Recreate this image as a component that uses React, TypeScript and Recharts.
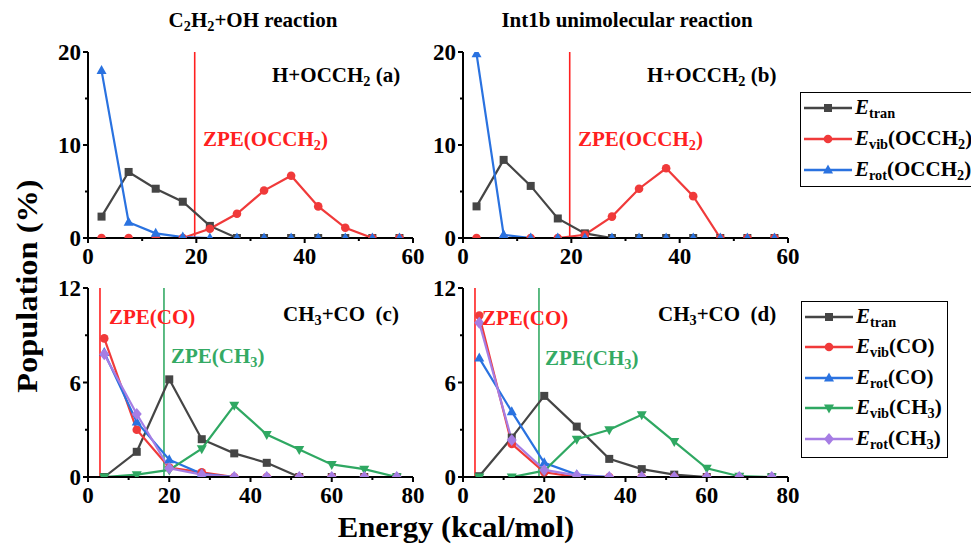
import React from 'react';
import { LineChart, Line, XAxis, YAxis, ReferenceLine } from 'recharts';

// ---------- data ----------
const energyAB = [2.5, 7.5, 12.5, 17.5, 22.5, 27.5, 32.5, 37.5, 42.5, 47.5, 52.5, 57.5];
const aTran = [2.3, 7.1, 5.3, 3.9, 1.3, 0, 0, 0, 0, 0, 0, 0];
const aVib = [0, 0, 0, 0, 1.0, 2.6, 5.1, 6.7, 3.4, 1.1, 0, 0];
const aRot = [18.0, 1.7, 0.5, 0.1, 0, 0, 0, 0, 0, 0, 0, 0];
const bTran = [3.4, 8.4, 5.6, 2.1, 0.5, 0, 0, 0, 0, 0, 0, 0];
const bVib = [0, 0, 0, 0, 0.35, 2.3, 5.3, 7.5, 4.5, 0, 0, 0];
const bRot = [19.8, 0.35, 0, 0, 0, 0, 0, 0, 0, 0, 0, 0];

const energyCD = [4, 12, 20, 28, 36, 44, 52, 60, 68, 76];
const cTran = [0, 1.6, 6.2, 2.4, 1.5, 0.9, 0, 0, 0, 0];
const cVibCO = [8.8, 3.0, 0.6, 0.3, 0, 0, 0, 0, 0, 0];
const cRotCO = [7.9, 3.5, 1.1, 0.2, 0, 0, 0, 0, 0, 0];
const cVibCH3 = [0, 0.15, 0.45, 1.8, 4.55, 2.7, 1.75, 0.8, 0.5, 0];
const cRotCH3 = [7.8, 4.0, 0.55, 0.15, 0, 0, 0, 0, 0, 0];
const dTran = [0.05, 2.5, 5.15, 3.2, 1.15, 0.5, 0.15, 0, 0, 0];
const dVibCO = [10.25, 2.1, 0.3, 0, 0, 0, 0, 0, 0, 0];
const dRotCO = [7.55, 4.15, 0.9, 0.15, 0, 0, 0, 0, 0, 0];
const dVibCH3 = [0, 0, 0.4, 2.4, 3.0, 3.95, 2.25, 0.55, 0.05, 0];
const dRotCH3 = [9.8, 2.35, 0.45, 0.1, 0, 0, 0, 0, 0, 0];

const zpeOCCH2 = 19.7;
const zpeCO = 2.95;
const zpeCH3 = 18.7;

const xTicksAB = [0, 10, 20, 30, 40, 50, 60];
const xTicksCD = [0, 10, 20, 30, 40, 50, 60, 70, 80];
const yTicksAB = [0, 5, 10, 15, 20];
const yTicksCD = [0, 3, 6, 9, 12];

// ---------- styles ----------
const FONT = '"Liberation Serif", "Times New Roman", Times, serif';
const C_TRAN = '#454545';
const C_VIB = '#f03a3a';
const C_ROT = '#2a72e0';
const C_VIBCH3 = '#2fa862';
const C_ROTCH3 = '#a67de4';
const C_ZPE_RED = '#ff2020';
const C_ZPE_GREEN = '#34aa64';

type Shape = 'square' | 'circle' | 'up' | 'down' | 'diamond';

function markerPath(shape: Shape, cx: number, cy: number, color: string, key?: any) {
  const s = 8;
  if (shape === 'square') return <rect key={key} x={cx - s / 2} y={cy - s / 2} width={s} height={s} fill={color} />;
  if (shape === 'circle') return <circle key={key} cx={cx} cy={cy} r={4.3} fill={color} />;
  if (shape === 'up')
    return <path key={key} d={`M${cx},${cy - 5.5} L${cx + 5},${cy + 3.5} L${cx - 5},${cy + 3.5} Z`} fill={color} />;
  if (shape === 'down')
    return <path key={key} d={`M${cx},${cy + 5.5} L${cx + 5},${cy - 3.5} L${cx - 5},${cy - 3.5} Z`} fill={color} />;
  return <path key={key} d={`M${cx},${cy - 6} L${cx + 5},${cy} L${cx},${cy + 6} L${cx - 5},${cy} Z`} fill={color} />;
}

const dotFn = (shape: Shape, color: string) => (p: any) =>
  p.cx == null || p.cy == null ? <g key={`e${p.index}`} /> : markerPath(shape, p.cx, p.cy, color, `d${p.index}`);

const makeXTick = (step: number) => (props: any) => {
  const { x, y, payload } = props;
  const major = payload.value % step === 0;
  return (
    <g>
      <line x1={x} y1={y} x2={x} y2={y + (major ? 5 : 3)} stroke="#000" strokeWidth={2} />
      {major && (
        <text x={x} y={y + 26} textAnchor="middle" fontFamily={FONT} fontWeight="bold" fontSize={23} fill="#000">
          {payload.value}
        </text>
      )}
    </g>
  );
};

const makeYTick = (step: number) => (props: any) => {
  const { x, y, payload } = props;
  const major = payload.value % step === 0;
  return (
    <g>
      <line x1={x} y1={y} x2={x - (major ? 5 : 3)} y2={y} stroke="#000" strokeWidth={2} />
      {major && (
        <text x={x - 7} y={y + 8} textAnchor="end" fontFamily={FONT} fontWeight="bold" fontSize={23} fill="#000">
          {payload.value}
        </text>
      )}
    </g>
  );
};

type Series = { key: string; color: string; shape: Shape };
type RefL = { x: number; color: string };

function Panel(props: {
  left: number; top: number; w: number; h: number;
  data: any[]; xMax: number; xTicks: number[]; xStep: number;
  yMax: number; yTicks: number[]; yStep: number;
  series: Series[]; refs: RefL[];
}) {
  const { left, top, w, h, data, xMax, xTicks, xStep, yMax, yTicks, yStep, series, refs } = props;
  const padL = 70, padT = 22, padR = 22, padB = 40;
  return (
    <div style={{ position: 'absolute', left: left - padL, top: top - padT }}>
      <LineChart width={w + padL + padR} height={h + padT + padB} data={data}
        margin={{ top: padT, right: padR, left: 0, bottom: 0 }}>
        <XAxis dataKey="x" type="number" domain={[0, xMax]} ticks={xTicks} interval={0}
          tickSize={0} tickMargin={0} height={padB} tick={makeXTick(xStep)}
          axisLine={{ stroke: '#000', strokeWidth: 2 }} tickLine={false} allowDataOverflow />
        <XAxis xAxisId="top" orientation="top" type="number" domain={[0, xMax]} height={0}
          tick={false} tickLine={false} axisLine={{ stroke: '#000', strokeWidth: 2 }} />
        <YAxis type="number" domain={[0, yMax]} ticks={yTicks} interval={0} width={padL}
          tickSize={0} tickMargin={0} tick={makeYTick(yStep)}
          axisLine={{ stroke: '#000', strokeWidth: 2 }} tickLine={false} allowDataOverflow />
        <YAxis yAxisId="right" orientation="right" type="number" domain={[0, yMax]} width={0}
          tick={false} tickLine={false} axisLine={{ stroke: '#000', strokeWidth: 2 }} />
        {refs.map((r, i) => (
          <ReferenceLine key={`r${i}`} x={r.x} stroke={r.color} strokeWidth={1.6} />
        ))}
        {series.map((s) => (
          <Line key={s.key} type="linear" dataKey={s.key} stroke={s.color} strokeWidth={2.2}
            dot={dotFn(s.shape, s.color)} activeDot={false} isAnimationActive={false} />
        ))}
      </LineChart>
    </div>
  );
}

function Txt(props: { x: number; y: number; size: number; color?: string; anchor?: 'left' | 'center' | 'right'; children: any; sx?: number }) {
  const { x, y, size, color = '#000', anchor = 'left', children, sx = 1 } = props;
  const tx = anchor === 'center' ? 'translateX(-50%)' : anchor === 'right' ? 'translateX(-100%)' : '';
  const origin = anchor === 'center' ? 'center' : anchor === 'right' ? 'right' : 'left';
  return (
    <div style={{
      position: 'absolute', left: x, top: y - 0.8375 * size, fontSize: size, lineHeight: 1,
      color, whiteSpace: 'nowrap', transform: `${tx} scaleX(${sx})`, transformOrigin: `${origin} center`,
      fontWeight: 'bold', fontFamily: FONT,
    }}>{children}</div>
  );
}

const Sub = ({ children }: any) => (
  <span style={{ fontSize: '0.68em', verticalAlign: '-0.28em' }}>{children}</span>
);

function LegendBox(props: { left: number; top: number; width: number; height: number; rows: { color: string; shape: Shape; y: number }[] }) {
  const { left, top, width, height, rows } = props;
  return (
    <div style={{ position: 'absolute', left, top, width, height, border: '1.5px solid #000', boxSizing: 'border-box' }}>
      <svg width={width} height={height} style={{ position: 'absolute', left: -1.5, top: -1.5 }}>
        {rows.map((r, i) => (
          <g key={i}>
            <line x1={4} x2={52} y1={r.y - top} y2={r.y - top} stroke={r.color} strokeWidth={2.5} />
            {markerPath(r.shape, 28, r.y - top, r.color)}
          </g>
        ))}
      </svg>
    </div>
  );
}

function LegendText(props: { x: number; y: number; sub: string; tail: any; size: number }) {
  return (
    <Txt x={props.x} y={props.y + 7} size={props.size}>
      <i>E</i><Sub>{props.sub}</Sub>{props.tail}
    </Txt>
  );
}

const buildAB = (tran: number[], vib: number[], rot: number[]) =>
  energyAB.map((x, i) => ({ x, tran: tran[i], vib: vib[i], rot: rot[i] }));
const buildCD = (tran: number[], vco: number[], rco: number[], vch: number[], rch: number[]) =>
  energyCD.map((x, i) => ({ x, tran: tran[i], vco: vco[i], rco: rco[i], vch: vch[i], rch: rch[i] }));

const seriesAB: Series[] = [
  { key: 'tran', color: C_TRAN, shape: 'square' },
  { key: 'vib', color: C_VIB, shape: 'circle' },
  { key: 'rot', color: C_ROT, shape: 'up' },
];
const seriesCD: Series[] = [
  { key: 'tran', color: C_TRAN, shape: 'square' },
  { key: 'vco', color: C_VIB, shape: 'circle' },
  { key: 'rco', color: C_ROT, shape: 'up' },
  { key: 'vch', color: C_VIBCH3, shape: 'down' },
  { key: 'rch', color: C_ROTCH3, shape: 'diamond' },
];

export default function App() {
  const L1 = { left: 800, top: 92, width: 180, height: 95 };
  const l1rows = [
    { color: C_TRAN, shape: 'square' as Shape, sub: 'tran', tail: '', y: 108 },
    { color: C_VIB, shape: 'circle' as Shape, sub: 'vib', tail: <>(OCCH<Sub>2</Sub>)</>, y: 139 },
    { color: C_ROT, shape: 'up' as Shape, sub: 'rot', tail: <>(OCCH<Sub>2</Sub>)</>, y: 170 },
  ];
  const L2 = { left: 801, top: 301, width: 147, height: 157 };
  const l2rows = [
    { color: C_TRAN, shape: 'square' as Shape, sub: 'tran', tail: '', y: 317 },
    { color: C_VIB, shape: 'circle' as Shape, sub: 'vib', tail: '(CO)', y: 347 },
    { color: C_ROT, shape: 'up' as Shape, sub: 'rot', tail: '(CO)', y: 378 },
    { color: C_VIBCH3, shape: 'down' as Shape, sub: 'vib', tail: <>(CH<Sub>3</Sub>)</>, y: 408 },
    { color: C_ROTCH3, shape: 'diamond' as Shape, sub: 'rot', tail: <>(CH<Sub>3</Sub>)</>, y: 439 },
  ];
  return (
    <div style={{ position: 'absolute', left: 0, top: 0, width: 971, height: 545, background: '#fff', overflow: 'hidden', fontFamily: FONT }}>
      <Panel left={88} top={52} w={325} h={186} data={buildAB(aTran, aVib, aRot)} xMax={60} xTicks={xTicksAB} xStep={20}
        yMax={20} yTicks={yTicksAB} yStep={10} series={seriesAB} refs={[{ x: zpeOCCH2, color: C_ZPE_RED }]} />
      <Panel left={463} top={52} w={325} h={186} data={buildAB(bTran, bVib, bRot)} xMax={60} xTicks={xTicksAB} xStep={20}
        yMax={20} yTicks={yTicksAB} yStep={10} series={seriesAB} refs={[{ x: zpeOCCH2, color: C_ZPE_RED }]} />
      <Panel left={88} top={288} w={325} h={189} data={buildCD(cTran, cVibCO, cRotCO, cVibCH3, cRotCH3)} xMax={80} xTicks={xTicksCD} xStep={20}
        yMax={12} yTicks={yTicksCD} yStep={6} series={seriesCD}
        refs={[{ x: zpeCO, color: C_ZPE_RED }, { x: zpeCH3, color: C_ZPE_GREEN }]} />
      <Panel left={463} top={288} w={325} h={189} data={buildCD(dTran, dVibCO, dRotCO, dVibCH3, dRotCH3)} xMax={80} xTicks={xTicksCD} xStep={20}
        yMax={12} yTicks={yTicksCD} yStep={6} series={seriesCD}
        refs={[{ x: zpeCO, color: C_ZPE_RED }, { x: zpeCH3, color: C_ZPE_GREEN }]} />

      {/* titles */}
      <Txt x={253} y={28} size={21} anchor="center">C<Sub>2</Sub>H<Sub>2</Sub>+OH reaction</Txt>
      <Txt x={627} y={28} size={21} anchor="center">Int1b unimolecular reaction</Txt>

      {/* annotations */}
      <Txt x={272} y={83} size={21}>H+OCCH<Sub>2</Sub> (a)</Txt>
      <Txt x={647} y={83} size={21}>H+OCCH<Sub>2</Sub> (b)</Txt>
      <Txt x={203} y={147} size={21} color={C_ZPE_RED}>ZPE(OCCH<Sub>2</Sub>)</Txt>
      <Txt x={578} y={147} size={21} color={C_ZPE_RED}>ZPE(OCCH<Sub>2</Sub>)</Txt>
      <Txt x={283} y={322} size={21}>CH<Sub>3</Sub>+CO&nbsp;&nbsp;(c)</Txt>
      <Txt x={658} y={322} size={21}>CH<Sub>3</Sub>+CO&nbsp;&nbsp;(d)</Txt>
      <Txt x={109} y={325} size={21} color={C_ZPE_RED}>ZPE(CO)</Txt>
      <Txt x={482} y={326} size={21} color={C_ZPE_RED}>ZPE(CO)</Txt>
      <Txt x={171} y={364} size={21} color={C_ZPE_GREEN}>ZPE(CH<Sub>3</Sub>)</Txt>
      <Txt x={545} y={366} size={21} color={C_ZPE_GREEN}>ZPE(CH<Sub>3</Sub>)</Txt>

      {/* axis titles */}
      <Txt x={456} y={537} size={29} anchor="center" sx={1.06}>Energy (kcal/mol)</Txt>
      <div style={{
        position: 'absolute', left: 27, top: 286, transform: 'translate(-50%, -50%) rotate(-90deg) scaleX(1.08)',
        fontSize: 30, fontWeight: 'bold', whiteSpace: 'nowrap', lineHeight: 1, fontFamily: FONT,
      }}>Population (%)</div>

      {/* legends */}
      <LegendBox {...L1} rows={l1rows} />
      {l1rows.map((r, i) => <LegendText key={`a${i}`} x={855} y={r.y} sub={r.sub} tail={r.tail} size={21} />)}
      <LegendBox {...L2} rows={l2rows} />
      {l2rows.map((r, i) => <LegendText key={`b${i}`} x={856} y={r.y} sub={r.sub} tail={r.tail} size={21} />)}
    </div>
  );
}
